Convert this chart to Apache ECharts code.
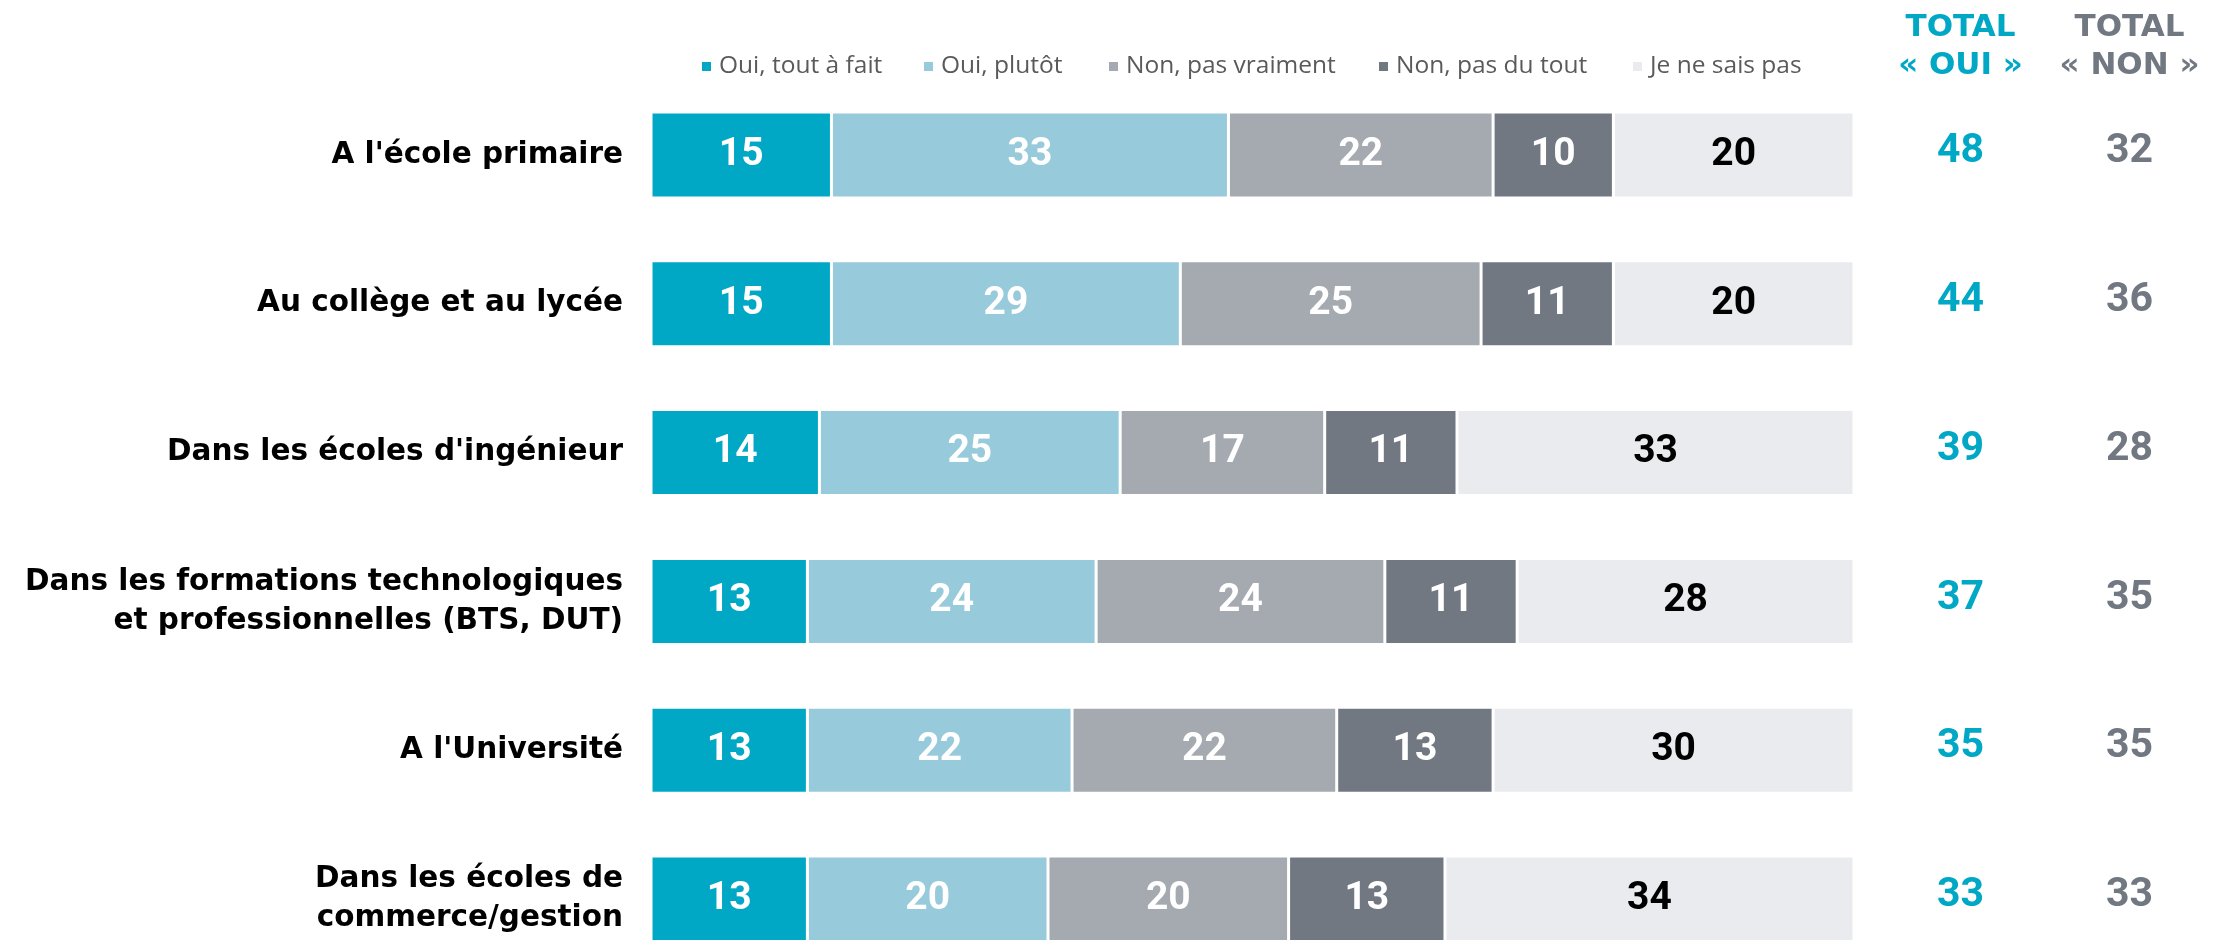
<!DOCTYPE html>
<html>
<head>
<meta charset="utf-8">
<script src="https://cdn.jsdelivr.net/npm/echarts@6/dist/echarts.min.js"></script>
<style>
html,body{margin:0;padding:0;background:#fff;}
#chart{width:2214px;height:940px;}
</style>
</head>
<body>
<div id="chart"></div>
<script>
var categories = [
  "A l'école primaire",
  "Au collège et au lycée",
  "Dans les écoles d'ingénieur",
  "Dans les formations technologiques\net professionnelles (BTS, DUT)",
  "A l'Université",
  "Dans les écoles de\ncommerce/gestion"
];
var seriesNames = ["Oui, tout à fait", "Oui, plutôt", "Non, pas vraiment", "Non, pas du tout", "Je ne sais pas"];
var ouiToutAFait = [15, 15, 14, 13, 13, 13];
var ouiPlutot = [33, 29, 25, 24, 22, 20];
var nonPasVraiment = [22, 25, 17, 24, 22, 20];
var nonPasDuTout = [10, 11, 11, 11, 13, 13];
var jeNeSaisPas = [20, 20, 33, 28, 30, 34];
var totalOui = [48, 44, 39, 37, 35, 33];
var totalNon = [32, 36, 28, 35, 35, 33];
var totalHeaders = ["TOTAL\n« OUI »", "TOTAL\n« NON »"];

var colors = ["#00A8C6", "#97CADA", "#A5A9B0", "#717882", "#EAEBEF"];
var labelColors = ["#ffffff", "#ffffff", "#ffffff", "#ffffff", "#000000"];
var values = [ouiToutAFait, ouiPlutot, nonPasVraiment, nonPasDuTout, jeNeSaisPas];
var FONT = "'DejaVu Sans', sans-serif";
var NUMFONT = "Roboto, 'DejaVu Sans', sans-serif";

var chart = echarts.init(document.getElementById('chart'), null, {renderer: 'canvas'});

var barSeries = seriesNames.map(function (name, k) {
  return {
    name: name,
    type: 'bar',
    stack: 'total',
    xAxisIndex: 0,
    yAxisIndex: 0,
    barWidth: 86,
    data: values[k],
    itemStyle: {color: colors[k], borderColor: '#ffffff', borderWidth: 1.5},
    label: {
      show: true,
      position: 'inside',
      color: labelColors[k],
      fontFamily: NUMFONT,
      fontWeight: 'bold',
      fontSize: 39
    },
    emphasis: {disabled: true},
    silent: true
  };
});

var legendLefts = [695, 917, 1102, 1372, 1626];
var legends = seriesNames.map(function (name, k) {
  return {
    data: [name],
    left: legendLefts[k],
    top: 49,
    icon: 'rect',
    itemWidth: 11,
    itemHeight: 11,
    itemGap: 0,
    selectedMode: false,
    textStyle: {fontFamily: "'Open Sans', sans-serif", fontSize: 24.5, color: '#5a5a5a', padding: [0, 0, 0, 2]}
  };
});

function totalSeries(arr, xi, color) {
  return {
    type: 'scatter',
    xAxisIndex: 1,
    yAxisIndex: 1,
    symbolSize: 1,
    itemStyle: {color: 'rgba(0,0,0,0)', opacity: 1},
    data: arr.map(function (v, i) { return [xi, i, v]; }),
    label: {
      show: true,
      position: 'inside',
      offset: [0, -3],
      formatter: function (p) { return p.value[2]; },
      color: color,
      fontFamily: NUMFONT,
      fontWeight: 'bold',
      fontSize: 41
    },
    emphasis: {disabled: true},
    silent: true
  };
}

var option = {
  animation: false,
  backgroundColor: '#ffffff',
  legend: legends,
  grid: [
    {left: 651, width: 1203, top: 155, height: 744},
    {left: 1876, width: 360, top: 155, height: 744}
  ],
  xAxis: [
    {type: 'value', gridIndex: 0, min: 0, max: 100, show: false},
    {
      type: 'category', gridIndex: 1, position: 'top',
      data: totalHeaders,
      axisLine: {show: false}, axisTick: {show: false}, splitLine: {show: false},
      axisLabel: {
        show: true,
        margin: 70,
        interval: 0,
        formatter: function (v, i) {
          var lines = v.split('\n');
          var st = i === 0 ? 'a' : 'b';
          return '{' + st + '|' + lines[0] + '}\n{' + st + '|' + lines[1] + '}';
        },
        rich: {
          a: {color: '#00A8C6', fontFamily: FONT, fontWeight: 'bold', fontSize: 31, lineHeight: 38, align: 'center'},
          b: {color: '#717882', fontFamily: FONT, fontWeight: 'bold', fontSize: 31, lineHeight: 38, align: 'center'}
        }
      }
    }
  ],
  yAxis: [
    {
      type: 'category', gridIndex: 0, inverse: true, boundaryGap: false,
      data: categories,
      axisLine: {show: false}, axisTick: {show: false}, splitLine: {show: false},
      axisLabel: {
        margin: 28,
        color: '#000000',
        fontFamily: FONT,
        fontWeight: 'bold',
        fontSize: 29.5,
        lineHeight: 39,
        align: 'right'
      }
    },
    {
      type: 'category', gridIndex: 1, inverse: true, boundaryGap: false,
      data: categories, show: false
    }
  ],
  series: barSeries.concat([
    totalSeries(totalOui, 0, '#00A8C6'),
    totalSeries(totalNon, 1, '#717882')
  ])
};
chart.setOption(option);
</script>
</body>
</html>
